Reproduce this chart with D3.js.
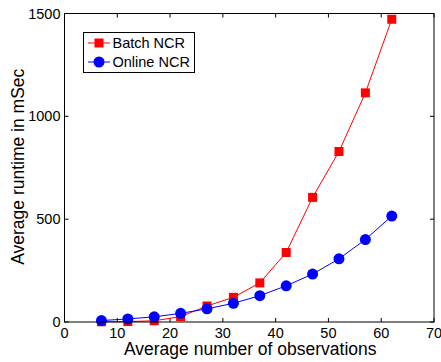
<!DOCTYPE html>
<html>
<head>
<meta charset="utf-8">
<script src="https://cdn.jsdelivr.net/npm/d3@7"></script>
<style>
  body { margin: 0; background: #fff; }
  svg { font-family: "Liberation Sans", Arial, sans-serif; }
</style>
</head>
<body>
<div id="chart"></div>
<script>
// observations on the x axis
const observations = [7, 12, 17, 22, 27, 32, 37, 42, 47, 52, 57, 62];
const batchNCR = [1, 2, 6, 26, 78, 120, 190, 338, 606, 829, 1114, 1472];
const onlineNCR = [7, 15, 25, 42, 64, 91, 128, 176, 233, 307, 401, 515];
const xTicks = [0, 10, 20, 30, 40, 50, 60, 70];
const yTicks = [0, 500, 1000, 1500];

const width = 441, height = 362;
const plotL = 64.5, plotR = 434, plotT = 13.5, plotB = 322;

const svg = d3.select("#chart").append("svg")
    .attr("width", width).attr("height", height);

const x = d3.scaleLinear().domain([0, 70]).range([plotL, plotR]);
const y = d3.scaleLinear().domain([0, 1500]).range([plotB, plotT]);

// ticks inside the box, on all four sides
const tickLen = 4;
const g = svg.append("g").attr("stroke", "#000").attr("stroke-width", 1);
xTicks.forEach(t => {
    g.append("line").attr("x1", x(t)).attr("x2", x(t)).attr("y1", plotB).attr("y2", plotB - tickLen);
    g.append("line").attr("x1", x(t)).attr("x2", x(t)).attr("y1", plotT).attr("y2", plotT + tickLen);
});
yTicks.forEach(t => {
    g.append("line").attr("x1", plotL).attr("x2", plotL + tickLen).attr("y1", y(t)).attr("y2", y(t));
    g.append("line").attr("x1", plotR).attr("x2", plotR - tickLen).attr("y1", y(t)).attr("y2", y(t));
});

svg.selectAll(".xlab").data(xTicks).enter().append("text")
    .attr("x", d => x(d)).attr("y", plotB + 16)
    .attr("text-anchor", "middle").attr("font-size", 14.5)
    .text(d => d);

svg.selectAll(".ylab").data(yTicks).enter().append("text")
    .attr("x", plotL - 4).attr("y", d => y(d) + 5)
    .attr("text-anchor", "end").attr("font-size", 14.5)
    .text(d => d);

svg.append("text")
    .attr("x", (plotL + plotR) / 2 + 1).attr("y", 355)
    .attr("text-anchor", "middle").attr("font-size", 17.5)
    .text("Average number of observations");

svg.append("text")
    .attr("transform", `translate(23.5, ${(plotT + plotB) / 2 - 1}) rotate(-90)`)
    .attr("text-anchor", "middle").attr("font-size", 17.5)
    .text("Average runtime in mSec");

const line = d3.line().x((d, i) => x(observations[i])).y(d => y(d));

// series
svg.append("path").datum(batchNCR).attr("d", line)
    .attr("fill", "none").attr("stroke", "#ff0000").attr("stroke-width", 1);
svg.selectAll(".sq").data(batchNCR).enter().append("rect")
    .attr("x", (d, i) => x(observations[i]) - 4.5)
    .attr("y", d => y(d) - 4.5)
    .attr("width", 9).attr("height", 9)
    .attr("fill", "#ff0000");

svg.append("path").datum(onlineNCR).attr("d", line)
    .attr("fill", "none").attr("stroke", "#0000ff").attr("stroke-width", 1);
svg.selectAll(".dot").data(onlineNCR).enter().append("circle")
    .attr("cx", (d, i) => x(observations[i]))
    .attr("cy", d => y(d))
    .attr("r", 5.5)
    .attr("fill", "#0000ff");

// box
svg.append("rect")
    .attr("x", plotL).attr("y", plotT)
    .attr("width", plotR - plotL).attr("height", plotB - plotT)
    .attr("fill", "none").attr("stroke", "#000").attr("stroke-width", 1);

// legend
const leg = svg.append("g");
leg.append("rect").attr("x", 83.5).attr("y", 32.5).attr("width", 111).attr("height", 40)
    .attr("fill", "#fff").attr("stroke", "#000").attr("stroke-width", 1);
const legItems = [
    { name: "Batch NCR", color: "#ff0000", shape: "square" },
    { name: "Online NCR", color: "#0000ff", shape: "circle" }
];
legItems.forEach((it, i) => {
    const cy = 43 + i * 19;
    leg.append("line").attr("x1", 88).attr("x2", 110).attr("y1", cy).attr("y2", cy)
        .attr("stroke", it.color).attr("stroke-width", 1);
    if (it.shape === "square") {
        leg.append("rect").attr("x", 99 - 4.5).attr("y", cy - 4.5).attr("width", 9).attr("height", 9)
            .attr("fill", it.color);
    } else {
        leg.append("circle").attr("cx", 99).attr("cy", cy).attr("r", 5.5).attr("fill", it.color);
    }
    leg.append("text").attr("x", 112.5).attr("y", cy + 5).attr("font-size", 14.5).text(it.name);
});
</script>
</body>
</html>
